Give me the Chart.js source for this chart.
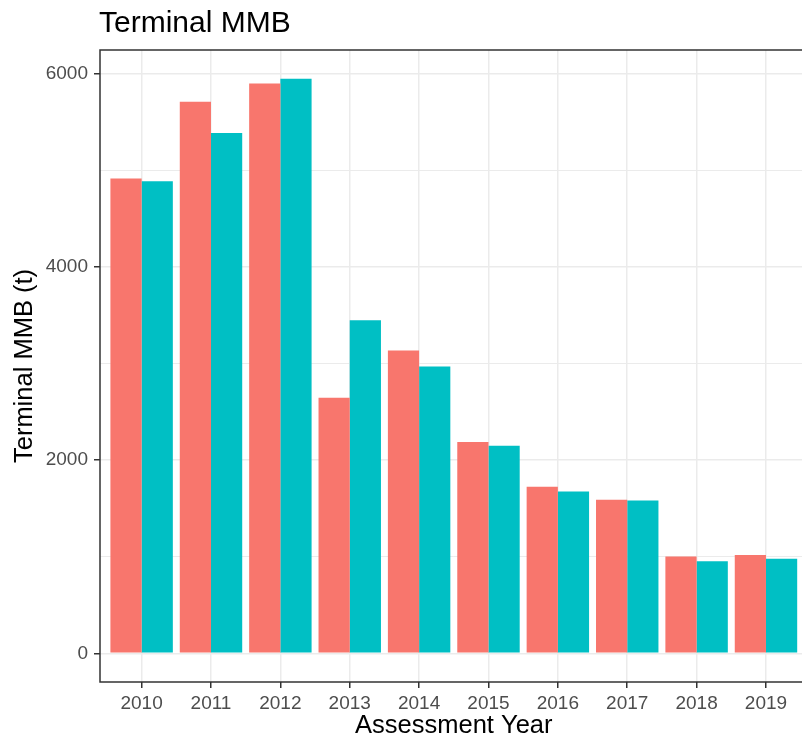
<!DOCTYPE html>
<html>
<head>
<meta charset="utf-8">
<title>Terminal MMB</title>
<script src="https://cdn.jsdelivr.net/npm/chart.js@4/dist/chart.umd.min.js"></script>
<style>
  html, body { margin: 0; padding: 0; background: #fff; overflow: hidden; }
  .wrap { width: 810px; height: 741px; position: relative; }
</style>
</head>
<body>
<div class="wrap"><canvas id="chart"></canvas></div>
<script>
const chartTitle = 'Terminal MMB';
const years = [2010, 2011, 2012, 2013, 2014, 2015, 2016, 2017, 2018, 2019];
const seriesA = [4912, 5707, 5896, 2644, 3134, 2185, 1722, 1588, 1001, 1018];
const seriesB = [4884, 5382, 5945, 3445, 2968, 2147, 1674, 1581, 953, 977];
const yTicks = [0, 1000, 2000, 3000, 4000, 5000, 6000];

const font = '"Liberation Sans", Arial, sans-serif';

// panel border (right side is cut off in the original) + title
const panelFrame = {
    id: 'panelFrame',
    afterDraw(chart) {
        const { ctx, chartArea: a } = chart;
        ctx.save();
        ctx.strokeStyle = '#333333';
        ctx.lineWidth = 1.5;
        ctx.beginPath();
        ctx.moveTo(chart.width, a.top);
        ctx.lineTo(a.left, a.top);
        ctx.lineTo(a.left, a.bottom);
        ctx.lineTo(chart.width, a.bottom);
        ctx.stroke();
        ctx.fillStyle = '#000';
        ctx.font = '30px ' + font;
        ctx.textBaseline = 'alphabetic';
        ctx.fillText(chartTitle, a.left - 1, 32);
        ctx.restore();
    }
};

const toPoints = vals => years.map((yr, i) => ({ x: yr, y: vals[i] }));

new Chart(document.getElementById('chart'), {
    type: 'bar',
    data: {
        datasets: [{
            label: 'Series A',
            data: toPoints(seriesA),
            backgroundColor: '#F8766D',
            borderWidth: 0
        }, {
            label: 'Series B',
            data: toPoints(seriesB),
            backgroundColor: '#00BFC4',
            borderWidth: 0
        }]
    },
    options: {
        responsive: true,
        maintainAspectRatio: false,
        animation: false,
        categoryPercentage: 0.9,
        barPercentage: 1.0,
        layout: { padding: { top: 50, left: 0, right: 2.4, bottom: 0 } },
        scales: {
            x: {
                type: 'linear',
                min: 2009.4,
                max: 2019.6,
                offset: false,
                afterBuildTicks: scale => { scale.ticks = years.map(v => ({ value: v })); },
                afterFit: scale => { scale.height = 59; },
                border: { display: false },
                grid: {
                    offset: false,
                    color: '#EBEBEB',
                    lineWidth: 1.5,
                    drawTicks: true,
                    tickLength: 6,
                    tickColor: '#333333',
                    tickWidth: 1.5
                },
                ticks: {
                    color: '#4D4D4D',
                    font: { size: 19, family: font },
                    padding: 4,
                    maxRotation: 0,
                    autoSkip: false,
                    callback: v => String(v)
                },
                title: {
                    display: true,
                    text: 'Assessment Year',
                    color: '#000',
                    font: { size: 25.5, family: font },
                    padding: { top: 0, bottom: 0 }
                }
            },
            y: {
                min: -297,
                max: 6242,
                afterBuildTicks: scale => { scale.ticks = yTicks.map(v => ({ value: v })); },
                afterFit: scale => { scale.width = 100; },
                border: { display: false },
                grid: {
                    color: '#EBEBEB',
                    lineWidth: ctx => (ctx.tick && ctx.tick.value % 2000 === 0) ? 1.5 : 1,
                    drawTicks: true,
                    tickLength: 6,
                    tickColor: ctx => (ctx.tick && ctx.tick.value % 2000 === 0) ? '#333333' : 'rgba(0,0,0,0)',
                    tickWidth: 1.5
                },
                ticks: {
                    color: '#4D4D4D',
                    font: { size: 19, family: font },
                    padding: 6,
                    autoSkip: false,
                    callback: v => (v % 2000 === 0 ? String(v) : '')
                },
                title: {
                    display: true,
                    text: 'Terminal MMB (t)',
                    color: '#000',
                    font: { size: 25.5, family: font },
                    padding: { top: 10, bottom: 0 }
                }
            }
        },
        plugins: {
            legend: { display: false },
            tooltip: { enabled: true }
        }
    },
    plugins: [panelFrame]
});
</script>
</body>
</html>
